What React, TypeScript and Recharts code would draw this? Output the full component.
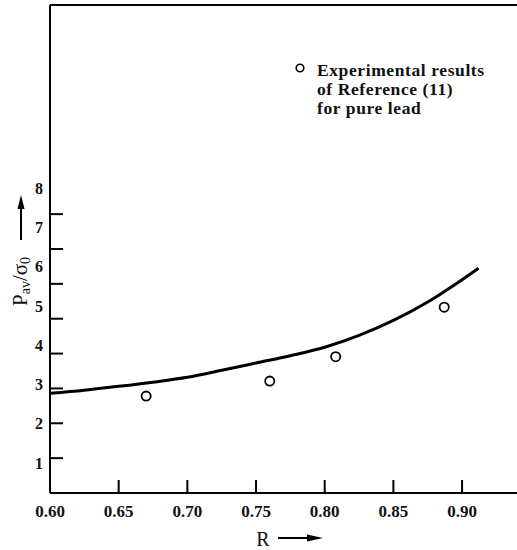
import React from "react";
import {
  ComposedChart,
  Line,
  Scatter,
  XAxis,
  YAxis,
  ReferenceLine,
} from "recharts";

// theory curve
const curveR = [0.6, 0.625, 0.65, 0.675, 0.7, 0.725, 0.75, 0.775, 0.8, 0.825, 0.85, 0.875, 0.9, 0.912];
const curveP = [2.86, 2.95, 3.06, 3.18, 3.32, 3.52, 3.73, 3.94, 4.18, 4.52, 4.95, 5.48, 6.12, 6.45];

// experimental points (Reference 11, pure lead)
const expR = [0.670, 0.760, 0.808, 0.887];
const expP = [2.78, 3.21, 3.91, 5.33];

const xTicks = [0.6, 0.65, 0.7, 0.75, 0.8, 0.85, 0.9];
const yTicks = [1, 2, 3, 4, 5, 6, 7, 8];

const legendLines = ["Experimental results", "of Reference (11)", "for pure lead"];

const curve = curveR.map((r, i) => ({ r, p: curveP[i] }));
const points = expR.map((r, i) => ({ r, p: expP[i] }));

const FONT = "'Liberation Serif', 'Times New Roman', serif";

const XTick = (props: any) => {
  const { x, y, payload } = props;
  return (
    <g>
      <line x1={x} x2={x} y1={y} y2={y - 13} stroke="#000" strokeWidth={2} />
      <text x={x} y={y + 18} textAnchor="middle" dominantBaseline="central"
        fontFamily={FONT} fontSize={17} fontWeight="bold" fill="#111">
        {payload.value.toFixed(2)}
      </text>
    </g>
  );
};

const YTick = (props: any) => {
  const { x, y, payload } = props;
  // the printed labels drift upward relative to the tick marks
  const drift = 9.5 - 4.4 * payload.value;
  return (
    <g>
      <line x1={x} x2={x + 13} y1={y} y2={y} stroke="#000" strokeWidth={2} />
      <text x={x - 7} y={y + drift} textAnchor="end" dominantBaseline="central"
        fontFamily={FONT} fontSize={16} fontWeight="bold" fill="#111">
        {payload.value}
      </text>
    </g>
  );
};

const OpenCircle = (props: any) => (
  <circle cx={props.cx} cy={props.cy} r={4.6} fill="#fff" stroke="#000" strokeWidth={1.8} />
);

export default function App() {
  return (
    <div style={{ position: "absolute", left: 0, top: 0, width: 517, height: 550, background: "#fff" }}>
      <ComposedChart width={517} height={550} margin={{ top: 5, right: 0, bottom: 0, left: 0 }}>
        <XAxis
          type="number"
          dataKey="r"
          domain={[0.6, 0.94]}
          ticks={xTicks}
          height={57}
          tickSize={0}
          tickMargin={0}
          tickLine={false}
          tick={<XTick />}
          axisLine={{ stroke: "#000", strokeWidth: 2 }}
          allowDataOverflow
        />
        <YAxis
          type="number"
          dataKey="p"
          domain={[0, 14]}
          ticks={yTicks}
          width={50}
          tickSize={0}
          tickMargin={0}
          tickLine={false}
          tick={<YTick />}
          axisLine={{ stroke: "#000", strokeWidth: 2 }}
          allowDataOverflow
        />
        <ReferenceLine y={14} stroke="#000" strokeWidth={2} ifOverflow="visible" />
        <Line
          data={curve}
          dataKey="p"
          type="monotone"
          stroke="#000"
          strokeWidth={3}
          dot={false}
          activeDot={false}
          isAnimationActive={false}
        />
        <Scatter data={points} dataKey="p" shape={<OpenCircle />} isAnimationActive={false} />
      </ComposedChart>

      <svg width={517} height={550} style={{ position: "absolute", left: 0, top: 0, pointerEvents: "none" }}>
        {/* legend */}
        <circle cx={300} cy={68} r={3.8} fill="#fff" stroke="#000" strokeWidth={1.6} />
        {legendLines.map((t, i) => (
          <text key={t} x={317} y={76 + i * 19} fontFamily={FONT} fontSize={17.5}
            fontWeight="bold" letterSpacing={0.6} fill="#111">
            {t}
          </text>
        ))}

        {/* x label */}
        <text x={263} y={546} textAnchor="middle" fontFamily={FONT} fontSize={20} fill="#111">R</text>
        <line x1={278} x2={310} y1={538} y2={538} stroke="#000" strokeWidth={2} />
        <polygon points="323,538 307,534.5 307,541.5" fill="#000" />

        {/* y label */}
        <text transform="translate(27,306) rotate(-90)" fontFamily={FONT} fontSize={21} fill="#111">
          P
          <tspan dy={3} fontSize={14}>av</tspan>
          <tspan dy={-3}>/σ</tspan>
          <tspan dy={3} fontSize={14}>0</tspan>
        </text>
        <line x1={21} x2={21} y1={240} y2={205} stroke="#000" strokeWidth={2} />
        <polygon points="21,195 17.5,209 24.5,209" fill="#000" />
      </svg>
    </div>
  );
}
